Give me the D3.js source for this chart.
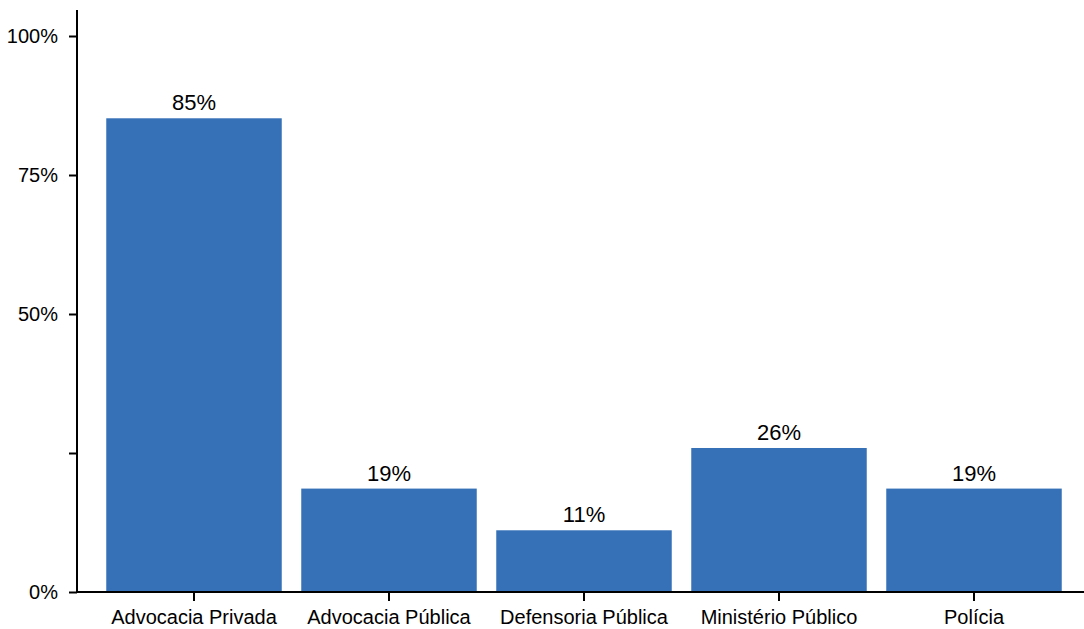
<!DOCTYPE html>
<html><head><meta charset="utf-8">
<script src="https://cdn.jsdelivr.net/npm/d3@7"></script>
<style>body{margin:0;background:#fff}svg{display:block}text{font-family:"Liberation Sans",Arial,sans-serif}</style>
</head><body>
<svg id="c" width="1084" height="629"></svg>
<script>
const categories = ["Advocacia Privada","Advocacia Pública","Defensoria Pública","Ministério Público","Polícia"];
const values = [85.2, 18.6, 11.1, 25.9, 18.6];
const valueLabels = ["85%","19%","11%","26%","19%"];
const yTicks = [0, 25, 50, 75, 100];
const yTickLabels = ["0%", "", "50%", "75%", "100%"];

const svg = d3.select("#c");
const y0 = 592, y100 = 36;
const y = d3.scaleLinear().domain([0,100]).range([y0, y100]);
const x = d3.scaleBand().domain(categories).range([96.5, 1071.5]).paddingInner(0.1).paddingOuter(0.05);
const axisX = 77;
const color = "#3671b8";

svg.selectAll("rect.bar").data(values).join("rect")
  .attr("class","bar")
  .attr("x",(d,i)=>x(categories[i]))
  .attr("width",x.bandwidth())
  .attr("y",d=>y(d))
  .attr("height",d=>y0-y(d))
  .attr("fill",color);

svg.selectAll("text.val").data(values).join("text")
  .attr("class","val")
  .attr("x",(d,i)=>x(categories[i])+x.bandwidth()/2)
  .attr("y",d=>y(d)-8)
  .attr("text-anchor","middle")
  .attr("font-size",22)
  .attr("fill","#000")
  .text((d,i)=>valueLabels[i]);

// y axis
const ya = svg.append("g").attr("transform",`translate(${axisX},0)`)
  .call(d3.axisLeft(y).tickValues(yTicks).tickFormat((d,i)=>yTickLabels[i]).tickSize(8).tickPadding(11).tickSizeOuter(0));
ya.select(".domain").remove();
ya.selectAll(".tick line").attr("stroke","#000").attr("stroke-width",2);
ya.selectAll(".tick text").attr("font-size",20).attr("fill","#000").attr("font-family","'Liberation Sans',Arial,sans-serif");
svg.append("line").attr("x1",axisX).attr("x2",axisX).attr("y1",10).attr("y2",y0+1).attr("stroke","#000").attr("stroke-width",2);

// x axis
const xa = svg.append("g").attr("transform",`translate(0,${y0})`)
  .call(d3.axisBottom(x).tickSize(9).tickPadding(9).tickSizeOuter(0));
xa.select(".domain").remove();
xa.selectAll(".tick line").attr("stroke","#000").attr("stroke-width",2);
xa.selectAll(".tick text").attr("font-size",20).attr("fill","#000").attr("font-family","'Liberation Sans',Arial,sans-serif");
svg.append("line").attr("x1",axisX-1).attr("x2",1084).attr("y1",y0).attr("y2",y0).attr("stroke","#000").attr("stroke-width",2);
</script>
</body></html>
